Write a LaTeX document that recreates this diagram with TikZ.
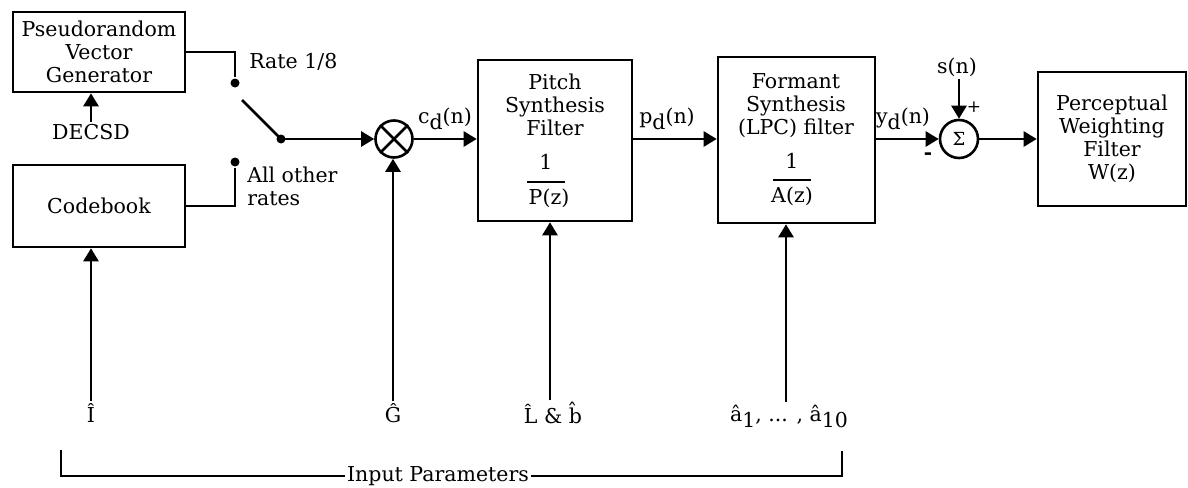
\documentclass[tikz,border=0pt]{standalone}
\usepackage{fontspec}
\setmainfont{DejaVu Serif}
\usetikzlibrary{arrows.meta,positioning}

\newcommand{\lowsub}[1]{\raisebox{-6pt}{#1}}

\begin{document}
\begin{tikzpicture}[x=1pt,y=1pt,line width=2.6pt,
    font=\fontsize{20.5}{23}\selectfont,
    block/.style={draw,rectangle,align=center,inner sep=0pt},
    junc/.style={draw,circle,minimum size=37pt,inner sep=0pt},
    dot/.style={circle,fill,minimum size=9pt,inner sep=0pt},
    lbl/.style={inner sep=1pt,align=center},
    arr/.style={-{Triangle[length=13pt,width=15pt]}}]
  \useasboundingbox (0,0) rectangle (1188,-487);

  \node[block,minimum width=172pt,minimum height=80pt] (prng) at (99,-52) {Pseudorandom\\Vector\\Generator};
  \node[block,minimum width=172pt,minimum height=82pt] (cb) at (99,-206) {Codebook};
  \node[block,minimum width=154pt,minimum height=161pt] (pitch) at (555,-140.5) {};
  \node[block,minimum width=157pt,minimum height=166pt] (lpc) at (796.5,-140) {};
  \node[block,minimum width=148pt,minimum height=134pt] (pwf) at (1112,-139) {Perceptual\\Weighting\\Filter\\W(z)};

  \node[lbl] (pitchtxt) at (555,-105) {Pitch\\Synthesis\\Filter};
  \node[lbl] (pone) at (546,-162) {1};
  \node[lbl] (pz) at (549,-198) {P(z)};
  \draw (527,-182) -- (565,-182);

  \node[lbl] (lpctxt) at (796,-106) {Formant\\Synthesis\\(LPC) filter};
  \node[lbl] (aone) at (792,-161) {1};
  \node[lbl] (az) at (792,-196) {A(z)};
  \draw (773,-180) -- (811,-180);

  \node[junc] (mult) at (394,-139) {};
  \draw (mult.north west) -- (mult.south east) (mult.north east) -- (mult.south west);
  \node[junc,minimum size=38pt,font=\fontsize{18}{18}\selectfont] (sum) at (959,-139) {Σ};

  % switch
  \node[dot] (d1) at (235,-83) {};
  \node[dot] (d2) at (235,-162) {};
  \node[dot] (pv) at (281,-139) {};
  \coordinate (arm) at (242,-100);
  \draw (prng.east) -| (d1);
  \draw (cb.east) -| (d2);
  \draw (pv.center) -- (arm);
  \node[lbl,anchor=west] (r18) at (247,-62) {Rate 1/8};
  \node[lbl,anchor=west,align=left] (aor) at (245,-186) {All other\\rates};

  \node[lbl] (decsd) at (91,-132) {DECSD};
  \draw[arr] (decsd.north) -- (decsd.north |- prng.south);

  \draw[arr] (pv.center) -- (mult.west);
  \draw[arr] (mult.east) -- (pitch.west |- mult.east);
  \draw[arr] (pitch.east |- mult) -- (lpc.west |- mult);
  \draw[arr] (lpc.east |- sum) -- (sum.west);
  \draw[arr] (sum.east) -- (pwf.west |- sum);
  \node[lbl] (cd) at (445,-119) {c\lowsub{d}(n)};
  \node[lbl] (pd) at (667,-119) {p\lowsub{d}(n)};
  \node[lbl] (yd) at (903,-119) {y\lowsub{d}(n)};

  \node[lbl] (sn) at (957,-67) {s(n)};
  \draw[arr] (sum.north |- sn.south) -- (sum.north);
  \node[lbl,font=\fontsize{17}{17}\selectfont] (plus) at (974,-107) {+};
  \node[lbl,font=\fontsize{20}{20}\selectfont\bfseries] (minus) at (928,-156) {-};

  % quantised parameters
  \node[lbl] (ihat) at (91,-413) {\^{I}};
  \node[lbl] (ghat) at (393,-413) {\^{G}};
  \node[lbl] (lbhat) at (553,-413) {\^{L} \& \^{b}};
  \node[lbl] (ahat) at (789,-416) {\^{a}\lowsub{1}, ... , \^{a}\lowsub{10}};
  \draw[arr] (ihat.north) -- (ihat.north |- cb.south);
  \draw[arr] (ghat.north) -- (ghat.north |- mult.south);
  \draw[arr] ([xshift=-3pt]lbhat.north) -- ([xshift=-3pt]lbhat.north |- pitch.south);
  \draw[arr] ([xshift=-3pt]ahat.north) -- ([xshift=-3pt]ahat.north |- lpc.south);

  \node[lbl] (inp) at (438,-476) {Input Parameters};
  \coordinate (bl) at (61,-450);
  \coordinate (br) at (842,-451);
  \draw (bl) |- (inp.west);
  \draw (inp.east) -| (br);
\end{tikzpicture}
\end{document}
